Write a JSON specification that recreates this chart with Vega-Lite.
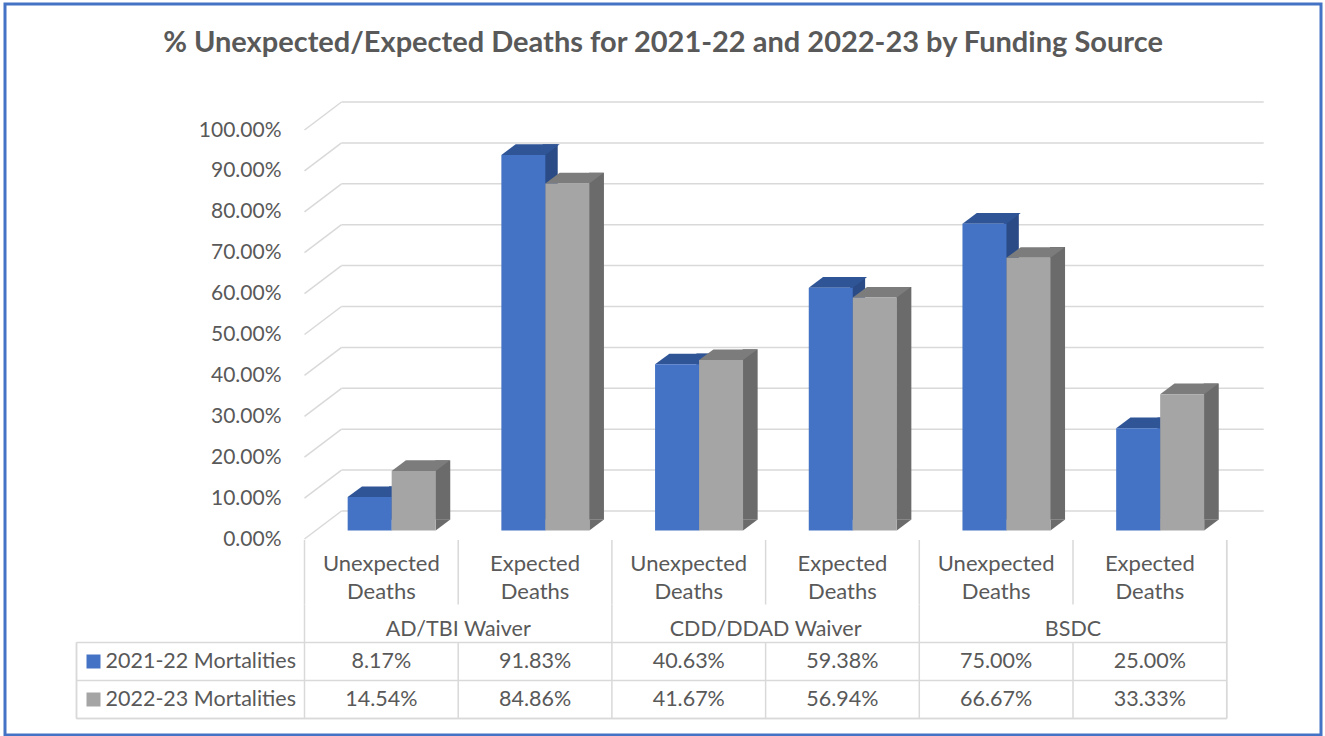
{
  "$schema": "https://vega.github.io/schema/vega-lite/v6.json",
  "autosize": {"type": "none"},
  "padding": {"left": 5, "top": 4, "right": 4, "bottom": 1},
  "width": 1316,
  "height": 731,
  "background": "white",
  "config": {
    "view": {"stroke": "#4472C4", "strokeWidth": 3},
    "font": "Lato"
  },
  "title": {
    "text": "% Unexpected/Expected Deaths for 2021-22 and 2022-23 by Funding Source",
    "font": "Lato", "fontSize": 29, "fontWeight": "bold", "color": "#595959",
    "anchor": "middle", "frame": "group", "offset": -77, "baseline": "alphabetic"
  },
  "datasets": {
    "bars": [
      {"col": "AD/TBI Unexpected", "series": "2021-22 Mortalities", "value": 0.0817},
      {"col": "AD/TBI Expected", "series": "2021-22 Mortalities", "value": 0.9183},
      {"col": "CDD/DDAD Unexpected", "series": "2021-22 Mortalities", "value": 0.4063},
      {"col": "CDD/DDAD Expected", "series": "2021-22 Mortalities", "value": 0.5938},
      {"col": "BSDC Unexpected", "series": "2021-22 Mortalities", "value": 0.75},
      {"col": "BSDC Expected", "series": "2021-22 Mortalities", "value": 0.25},
      {"col": "AD/TBI Unexpected", "series": "2022-23 Mortalities", "value": 0.1454},
      {"col": "AD/TBI Expected", "series": "2022-23 Mortalities", "value": 0.8486},
      {"col": "CDD/DDAD Unexpected", "series": "2022-23 Mortalities", "value": 0.4167},
      {"col": "CDD/DDAD Expected", "series": "2022-23 Mortalities", "value": 0.5694},
      {"col": "BSDC Unexpected", "series": "2022-23 Mortalities", "value": 0.6667},
      {"col": "BSDC Expected", "series": "2022-23 Mortalities", "value": 0.3333}
    ],
    "cols": [
      {"col": "AD/TBI Unexpected", "sub": "Unexpected\nDeaths"},
      {"col": "AD/TBI Expected", "sub": "Expected\nDeaths"},
      {"col": "CDD/DDAD Unexpected", "sub": "Unexpected\nDeaths"},
      {"col": "CDD/DDAD Expected", "sub": "Expected\nDeaths"},
      {"col": "BSDC Unexpected", "sub": "Unexpected\nDeaths"},
      {"col": "BSDC Expected", "sub": "Expected\nDeaths"}
    ],
    "groups": [
      {"group": "AD/TBI Waiver", "start": "AD/TBI Unexpected", "mid": "AD/TBI Expected"},
      {"group": "CDD/DDAD Waiver", "start": "CDD/DDAD Unexpected", "mid": "CDD/DDAD Expected"},
      {"group": "BSDC", "start": "BSDC Unexpected", "mid": "BSDC Expected"}
    ],
    "series": [
      {"series": "2021-22 Mortalities"},
      {"series": "2022-23 Mortalities"}
    ],
    "grid": [
      {"v": 0}, {"v": 0.1}, {"v": 0.2}, {"v": 0.3}, {"v": 0.4}, {"v": 0.5},
      {"v": 0.6}, {"v": 0.7}, {"v": 0.8}, {"v": 0.9}, {"v": 1}
    ]
  },
  "resolve": {"scale": {"y": "independent", "xOffset": "independent", "color": "independent"}},
  "layer": [
    {
      "data": {"name": "grid"},
      "mark": {"type": "rule", "stroke": "#D9D9D9", "strokeWidth": 1.5, "xOffset": 37, "x2Offset": 37, "yOffset": -28},
      "encoding": {
        "x": {"datum": "AD/TBI Unexpected", "type": "nominal", "bandPosition": 0, "axis": null,
              "scale": {"type": "band", "domain": ["AD/TBI Unexpected", "AD/TBI Expected", "CDD/DDAD Unexpected", "CDD/DDAD Expected", "BSDC Unexpected", "BSDC Expected"], "range": [299.5, 1221.7], "paddingInner": 0, "paddingOuter": 0}},
        "x2": {"datum": "BSDC Expected", "bandPosition": 1},
        "y": {"field": "v", "type": "quantitative",
              "scale": {"type": "linear", "domain": [0, 1], "range": [535, 126], "nice": false, "zero": false},
              "axis": {"orient": "left", "offset": -276, "domain": false, "ticks": false, "tickSize": 0, "grid": false, "labelPadding": 0, "format": ".2%", "values": [0, 0.1, 0.2, 0.3, 0.4, 0.5, 0.6, 0.7, 0.8, 0.9, 1], "labelFont": "Lato", "labelFontSize": 21, "labelColor": "#595959", "title": null, "labelBound": false, "labelOverlap": false}}
      }
    },
    {
      "data": {"name": "grid"},
      "mark": {"type": "rule", "stroke": "#D9D9D9", "strokeWidth": 1.5, "x2Offset": 37, "y2Offset": -28},
      "encoding": {
        "x": {"datum": "AD/TBI Unexpected", "type": "nominal", "bandPosition": 0, "axis": null},
        "x2": {"datum": "AD/TBI Unexpected", "bandPosition": 0},
        "y": {"field": "v", "type": "quantitative", "axis": null,
              "scale": {"type": "linear", "domain": [0, 1], "range": [535, 126], "nice": false, "zero": false}},
        "y2": {"field": "v"}
      }
    },
    {
      "data": {"name": "series"},
      "mark": {"type": "rule", "stroke": "#D9D9D9", "strokeWidth": 1.5, "xOffset": -228},
      "encoding": {
        "x": {"datum": "AD/TBI Unexpected", "type": "nominal", "bandPosition": 0, "axis": null},
        "x2": {"datum": "BSDC Expected", "bandPosition": 1},
        "y": {"field": "series", "type": "nominal", "bandPosition": 0, "axis": null,
              "scale": {"type": "band", "domain": ["c1", "c2", "g", "2021-22 Mortalities", "2022-23 Mortalities"], "range": [524.5, 714.5], "paddingInner": 0, "paddingOuter": 0}}
      }
    },
    {
      "data": {"name": "series"},
      "mark": {"type": "rule", "stroke": "#D9D9D9", "strokeWidth": 1.5, "xOffset": -228},
      "encoding": {
        "x": {"datum": "AD/TBI Unexpected", "type": "nominal", "bandPosition": 0, "axis": null},
        "x2": {"datum": "BSDC Expected", "bandPosition": 1},
        "y": {"datum": "2022-23 Mortalities", "type": "nominal", "bandPosition": 1, "axis": null,
              "scale": {"type": "band", "domain": ["c1", "c2", "g", "2021-22 Mortalities", "2022-23 Mortalities"], "range": [524.5, 714.5], "paddingInner": 0, "paddingOuter": 0}}
      }
    },
    {
      "data": {"name": "series"},
      "mark": {"type": "rule", "stroke": "#D9D9D9", "strokeWidth": 1.5, "xOffset": -228},
      "encoding": {
        "x": {"datum": "AD/TBI Unexpected", "type": "nominal", "bandPosition": 0, "axis": null},
        "y": {"datum": "2021-22 Mortalities", "type": "nominal", "bandPosition": 0, "axis": null,
              "scale": {"type": "band", "domain": ["c1", "c2", "g", "2021-22 Mortalities", "2022-23 Mortalities"], "range": [524.5, 714.5], "paddingInner": 0, "paddingOuter": 0}},
        "y2": {"datum": "2022-23 Mortalities", "bandPosition": 1}
      }
    },
    {
      "data": {"name": "cols"},
      "mark": {"type": "rule", "stroke": "#D9D9D9", "strokeWidth": 1.5},
      "encoding": {
        "x": {"field": "col", "type": "nominal", "bandPosition": 0, "axis": null},
        "y": {"datum": "2021-22 Mortalities", "type": "nominal", "bandPosition": 0, "axis": null,
              "scale": {"type": "band", "domain": ["c1", "c2", "g", "2021-22 Mortalities", "2022-23 Mortalities"], "range": [524.5, 714.5], "paddingInner": 0, "paddingOuter": 0}},
        "y2": {"datum": "2022-23 Mortalities", "bandPosition": 1}
      }
    },
    {
      "data": {"name": "cols"},
      "mark": {"type": "rule", "stroke": "#D9D9D9", "strokeWidth": 1.5, "yOffset": 11.5},
      "encoding": {
        "x": {"field": "col", "type": "nominal", "bandPosition": 0, "axis": null},
        "y": {"datum": "c1", "type": "nominal", "bandPosition": 0, "axis": null,
              "scale": {"type": "band", "domain": ["c1", "c2", "g", "2021-22 Mortalities", "2022-23 Mortalities"], "range": [524.5, 714.5], "paddingInner": 0, "paddingOuter": 0}},
        "y2": {"datum": "g", "bandPosition": 0}
      }
    },
    {
      "data": {"name": "groups"},
      "mark": {"type": "rule", "stroke": "#D9D9D9", "strokeWidth": 1.5},
      "encoding": {
        "x": {"field": "start", "type": "nominal", "bandPosition": 0, "axis": null},
        "y": {"datum": "g", "type": "nominal", "bandPosition": 0, "axis": null,
              "scale": {"type": "band", "domain": ["c1", "c2", "g", "2021-22 Mortalities", "2022-23 Mortalities"], "range": [524.5, 714.5], "paddingInner": 0, "paddingOuter": 0}},
        "y2": {"datum": "2021-22 Mortalities", "bandPosition": 0}
      }
    },
    {
      "data": {"name": "series"},
      "mark": {"type": "rule", "stroke": "#D9D9D9", "strokeWidth": 1.5, "yOffset": 11.5},
      "encoding": {
        "x": {"datum": "BSDC Expected", "type": "nominal", "bandPosition": 1, "axis": null},
        "y": {"datum": "c1", "type": "nominal", "bandPosition": 0, "axis": null,
              "scale": {"type": "band", "domain": ["c1", "c2", "g", "2021-22 Mortalities", "2022-23 Mortalities"], "range": [524.5, 714.5], "paddingInner": 0, "paddingOuter": 0}},
        "y2": {"datum": "2022-23 Mortalities", "bandPosition": 1}
      }
    },
    {
      "data": {"name": "bars"},
      "mark": {"type": "bar", "yOffset": -19.2, "y2Offset": -19.2, "strokeWidth": 0},
      "encoding": {
        "x": {"field": "col", "type": "nominal", "axis": null},
        "xOffset": {"field": "series", "type": "nominal",
                    "scale": {"type": "band", "domain": ["2021-22 Mortalities", "2022-23 Mortalities"], "paddingInner": 0.675, "paddingOuter": 1.084, "align": 0.914}},
        "y": {"field": "value", "type": "quantitative", "axis": null,
              "scale": {"type": "linear", "domain": [0, 1], "range": [535, 126], "nice": false, "zero": false}},
        "y2": {"datum": 0},
        "color": {"field": "series", "type": "nominal", "legend": null,
                  "scale": {"domain": ["2021-22 Mortalities", "2022-23 Mortalities"], "range": ["#2A4B86", "#6B6B6B"]}}
      }
    },
    {
      "data": {"name": "bars"},
      "mark": {"type": "point", "shape": "M1,0L1,-0.486L1.65,-0.486Z", "size": 1936, "filled": true, "opacity": 1, "strokeWidth": 0, "yOffset": -8.5},
      "encoding": {
        "x": {"field": "col", "type": "nominal", "axis": null},
        "xOffset": {"field": "series", "type": "nominal",
                    "scale": {"type": "band", "domain": ["2021-22 Mortalities", "2022-23 Mortalities"], "paddingInner": 0, "paddingOuter": 0.7466, "align": 0.657}},
        "y": {"datum": 0, "type": "quantitative", "axis": null,
              "scale": {"type": "linear", "domain": [0, 1], "range": [535, 126], "nice": false, "zero": false}},
        "color": {"field": "series", "type": "nominal", "legend": null,
                  "scale": {"domain": ["2021-22 Mortalities", "2022-23 Mortalities"], "range": ["#2A4B86", "#6B6B6B"]}}
      }
    },
    {
      "data": {"name": "bars"},
      "mark": {"type": "point", "shape": "M-1,0L1,0L1.65,-0.486L-0.35,-0.486Z", "size": 1936, "filled": true, "opacity": 1, "strokeWidth": 0, "yOffset": -8.5},
      "encoding": {
        "x": {"field": "col", "type": "nominal", "axis": null},
        "xOffset": {"field": "series", "type": "nominal",
                    "scale": {"type": "band", "domain": ["2021-22 Mortalities", "2022-23 Mortalities"], "paddingInner": 0, "paddingOuter": 0.7466, "align": 0.657}},
        "y": {"field": "value", "type": "quantitative", "axis": null,
              "scale": {"type": "linear", "domain": [0, 1], "range": [535, 126], "nice": false, "zero": false}},
        "color": {"field": "series", "type": "nominal", "legend": null,
                  "scale": {"domain": ["2021-22 Mortalities", "2022-23 Mortalities"], "range": ["#2F5597", "#7C7C7C"]}}
      }
    },
    {
      "data": {"name": "bars"},
      "mark": {"type": "bar", "yOffset": -8.5, "y2Offset": -8.5, "strokeWidth": 0},
      "encoding": {
        "x": {"field": "col", "type": "nominal", "axis": null},
        "xOffset": {"field": "series", "type": "nominal",
                    "scale": {"type": "band", "domain": ["2021-22 Mortalities", "2022-23 Mortalities"], "paddingInner": 0, "paddingOuter": 0.7466, "align": 0.657}},
        "y": {"field": "value", "type": "quantitative", "axis": null,
              "scale": {"type": "linear", "domain": [0, 1], "range": [535, 126], "nice": false, "zero": false}},
        "y2": {"datum": 0},
        "color": {"field": "series", "type": "nominal", "legend": null,
                  "scale": {"domain": ["2021-22 Mortalities", "2022-23 Mortalities"], "range": ["#4472C4", "#A5A5A5"]}}
      }
    },
    {
      "data": {"name": "cols"},
      "mark": {"type": "text", "font": "Lato", "fontSize": 22, "fill": "#595959", "lineBreak": "\n", "lineHeight": 28, "baseline": "middle", "align": "center", "yOffset": -2.5},
      "encoding": {
        "x": {"field": "col", "type": "nominal", "axis": null},
        "y": {"datum": "c2", "type": "nominal", "bandPosition": 0, "axis": null,
              "scale": {"type": "band", "domain": ["c1", "c2", "g", "2021-22 Mortalities", "2022-23 Mortalities"], "range": [524.5, 714.5], "paddingInner": 0, "paddingOuter": 0}},
        "text": {"field": "sub"}
      }
    },
    {
      "data": {"name": "groups"},
      "mark": {"type": "text", "font": "Lato", "fontSize": 21.5, "fill": "#595959", "baseline": "middle", "align": "center", "yOffset": 6.5},
      "encoding": {
        "x": {"field": "mid", "type": "nominal", "bandPosition": 0, "axis": null},
        "y": {"datum": "g", "type": "nominal", "axis": null,
              "scale": {"type": "band", "domain": ["c1", "c2", "g", "2021-22 Mortalities", "2022-23 Mortalities"], "range": [524.5, 714.5], "paddingInner": 0, "paddingOuter": 0}},
        "text": {"field": "group"}
      }
    },
    {
      "data": {"name": "bars"},
      "mark": {"type": "text", "font": "Lato", "fontSize": 21.5, "fill": "#595959", "baseline": "middle", "align": "center"},
      "encoding": {
        "x": {"field": "col", "type": "nominal", "axis": null},
        "y": {"field": "series", "type": "nominal", "axis": null,
              "scale": {"type": "band", "domain": ["c1", "c2", "g", "2021-22 Mortalities", "2022-23 Mortalities"], "range": [524.5, 714.5], "paddingInner": 0, "paddingOuter": 0}},
        "text": {"field": "value", "type": "quantitative", "format": ".2%"}
      }
    },
    {
      "data": {"name": "series"},
      "mark": {"type": "text", "font": "Lato", "fontSize": 21.5, "fill": "#595959", "baseline": "middle", "align": "left", "xOffset": -199},
      "encoding": {
        "x": {"datum": "AD/TBI Unexpected", "type": "nominal", "bandPosition": 0, "axis": null},
        "y": {"field": "series", "type": "nominal", "axis": null,
              "scale": {"type": "band", "domain": ["c1", "c2", "g", "2021-22 Mortalities", "2022-23 Mortalities"], "range": [524.5, 714.5], "paddingInner": 0, "paddingOuter": 0}},
        "text": {"field": "series"}
      }
    },
    {
      "data": {"name": "series"},
      "mark": {"type": "point", "shape": "square", "size": 196, "filled": true, "opacity": 1, "strokeWidth": 0, "xOffset": -211},
      "encoding": {
        "x": {"datum": "AD/TBI Unexpected", "type": "nominal", "bandPosition": 0, "axis": null},
        "y": {"field": "series", "type": "nominal", "axis": null,
              "scale": {"type": "band", "domain": ["c1", "c2", "g", "2021-22 Mortalities", "2022-23 Mortalities"], "range": [524.5, 714.5], "paddingInner": 0, "paddingOuter": 0}},
        "color": {"field": "series", "type": "nominal", "legend": null,
                  "scale": {"domain": ["2021-22 Mortalities", "2022-23 Mortalities"], "range": ["#4472C4", "#A5A5A5"]}}
      }
    }
  ]
}
